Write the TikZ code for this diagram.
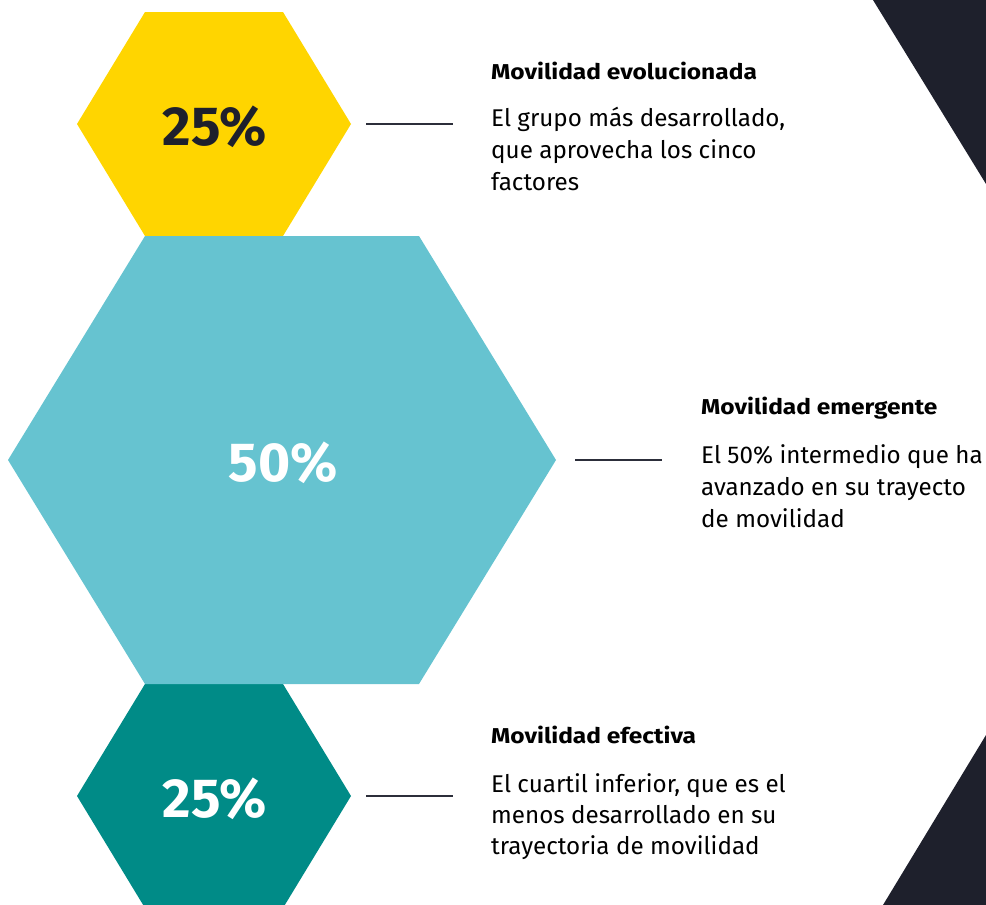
\documentclass[tikz,border=0pt]{standalone}
\usepackage{fontspec}
\setmainfont{Fira Sans}
\newfontfamily\headfont[FakeStretch=1.14]{Fira Sans}
\usetikzlibrary{calc}

\definecolor{hexyellow}{HTML}{FFD500}
\definecolor{hexcyan}{HTML}{66C3D0}
\definecolor{hexteal}{HTML}{008B87}
\definecolor{inkdark}{HTML}{1E202C}
\definecolor{rulegray}{HTML}{2C2E3A}

\tikzset{
  pct/.style={font=\fontsize{55}{55}\selectfont\bfseries, inner sep=0pt},
  heading/.style={anchor=base west, inner sep=0pt, text=black,
    font=\headfont\fontsize{21.5}{21.5}\selectfont\bfseries},
  bodytext/.style={anchor=base west, inner sep=0pt, text=black,
    font=\fontsize{24.2}{32}\selectfont},
  leader/.style={draw=rulegray, line width=1.1pt},
}

% flat-topped hexagon: centre, half width, half top edge, half height
\newcommand{\hexpath}[4]{%
  ($(#1)+(-#2,0)$) -- ($(#1)+(-#3,-#4)$) -- ($(#1)+(#3,-#4)$) --
  ($(#1)+(#2,0)$) -- ($(#1)+(#3,#4)$) -- ($(#1)+(-#3,#4)$) -- cycle}

\begin{document}
\begin{tikzpicture}[x=1pt,y=-1pt]
  \useasboundingbox (0,0) rectangle (986,905);

  % dark corner shapes
  \fill[inkdark] (873,0) -- (986,0) -- (986,184) -- cycle;
  \fill[inkdark] (986,735) -- (986,905) -- (883,905) -- cycle;

  % hexagon centres
  \coordinate (cy) at (214,124);
  \coordinate (cc) at (282,460);
  \coordinate (ct) at (214,796);

  \fill[hexyellow] \hexpath{cy}{137}{69}{112};
  \fill[hexteal]   \hexpath{ct}{137}{69}{112};
  \fill[hexcyan]   \hexpath{cc}{274}{137}{224};

  \node[pct, text=inkdark] (p1) at (215,127) {25\%};
  \node[pct, text=white]   (p2) at (283,463) {50\%};
  \node[pct, text=white]   (p3) at (215,799) {25\%};

  % leader lines
  \coordinate (l1a) at (366,124); \coordinate (l1b) at (453,124);
  \coordinate (l2a) at (575,460); \coordinate (l2b) at (662,460);
  \coordinate (l3a) at (366,796); \coordinate (l3b) at (453,796);
  \draw[leader] (l1a) -- (l1b);
  \draw[leader] (l2a) -- (l2b);
  \draw[leader] (l3a) -- (l3b);

  % descriptions
  \node[heading] (h1) at (491,79) {Movilidad evolucionada};
  \node[bodytext] (b1a) at (491,126) {El grupo más desarrollado,};
  \node[bodytext] (b1b) at (491,158) {que aprovecha los cinco};
  \node[bodytext] (b1c) at (491,190) {factores};

  \node[heading] (h2) at (701,414) {Movilidad emergente};
  \node[bodytext] (b2a) at (701,463) {El 50\% intermedio que ha};
  \node[bodytext] (b2b) at (701,495) {avanzado en su trayecto};
  \node[bodytext] (b2c) at (701,527) {de movilidad};

  \node[heading] (h3) at (491,743) {Movilidad efectiva};
  \node[bodytext] (b3a) at (491,792) {El cuartil inferior, que es el};
  \node[bodytext] (b3b) at (491,823) {menos desarrollado en su};
  \node[bodytext] (b3c) at (491,854) {trayectoria de movilidad};
\end{tikzpicture}
\end{document}
